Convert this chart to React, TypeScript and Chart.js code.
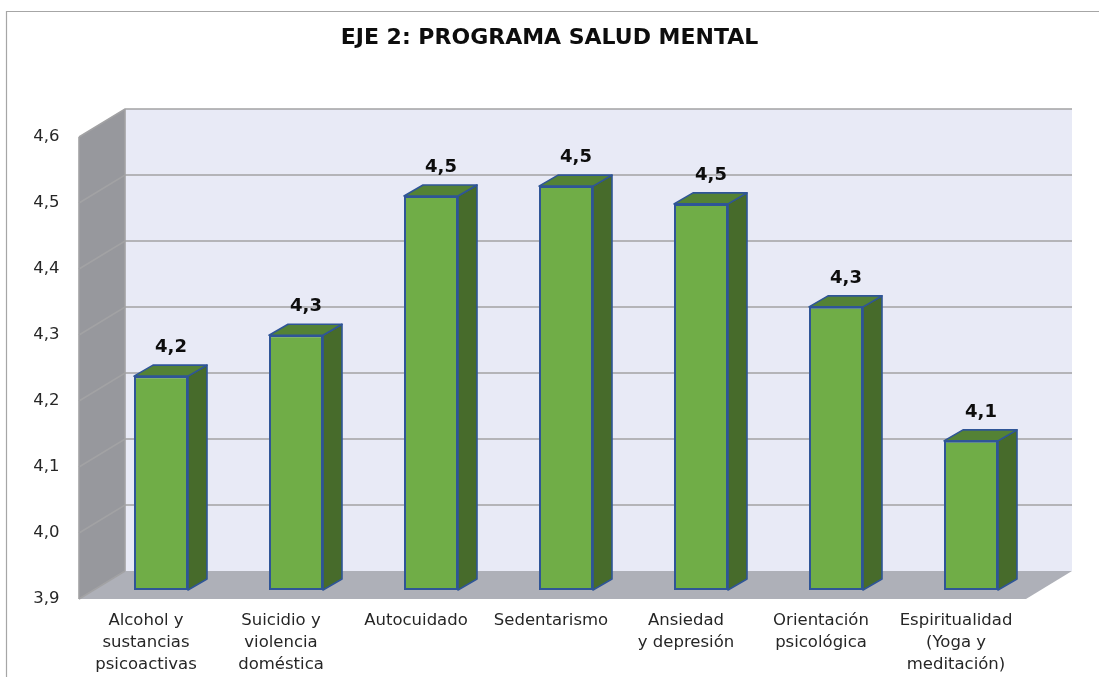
import React, { useEffect, useRef } from "react";
import { Chart, registerables } from "chart.js";

Chart.register(...registerables);

const categories = [
  ["Alcohol y", "sustancias", "psicoactivas"],
  ["Suicidio y", "violencia", "doméstica"],
  ["Autocuidado"],
  ["Sedentarismo"],
  ["Ansiedad", "y depresión"],
  ["Orientación", "psicológica"],
  ["Espiritualidad", "(Yoga y", "meditación)"],
];
const values = [4.224, 4.286, 4.497, 4.512, 4.485, 4.329, 4.126];
const titleText = "EJE 2: PROGRAMA SALUD MENTAL";
const axisMin = 3.9;
const axisMax = 4.6;

const FONT = '"DejaVu Sans", sans-serif';
const BAR_DEPTH = { x: 19, y: 11 };
const WALL_FRONT = { x: -14.5, y: 9 };
const WALL_BACK = { x: 31.5, y: -19 };
const RIGHT_EXTRA = 2;

const comma = (v: number, d: number) => v.toFixed(d).replace(".", ",");

const poly = (ctx: CanvasRenderingContext2D, pts: number[][], fill: string, stroke?: string, lw = 1) => {
  ctx.beginPath();
  pts.forEach(([x, y], i) => (i ? ctx.lineTo(x, y) : ctx.moveTo(x, y)));
  ctx.closePath();
  ctx.fillStyle = fill;
  ctx.fill();
  if (stroke) {
    ctx.strokeStyle = stroke;
    ctx.lineWidth = lw;
    ctx.lineJoin = "round";
    ctx.stroke();
  }
};

const frame3d = {
  id: "frame3d",
  afterLayout(chart: any) {
    // centre the title on the whole canvas rather than on the padded box
    if (chart.titleBlock) {
      chart.titleBlock.left = 0;
      chart.titleBlock.right = chart.width;
    }
  },
  beforeDatasetsDraw(chart: any) {
    const { ctx, chartArea: a, scales, width, height } = chart;
    const y = scales.y;
    const f = WALL_FRONT;
    const b = WALL_BACK;
    const L = a.left;
    const R = a.right + RIGHT_EXTRA;
    const T = y.getPixelForValue(axisMax);
    const B = y.getPixelForValue(axisMin);
    ctx.save();
    // outer frame
    ctx.strokeStyle = "#a6a6a6";
    ctx.lineWidth = 1.2;
    ctx.beginPath();
    ctx.moveTo(6.5, height);
    ctx.lineTo(6.5, 11.5);
    ctx.lineTo(width, 11.5);
    ctx.stroke();
    // back wall
    poly(ctx, [[L + b.x, T + b.y], [R + b.x, T + b.y], [R + b.x, B + b.y], [L + b.x, B + b.y]], "#e8eaf6");
    // left wall
    poly(ctx, [[L + f.x, T + f.y], [L + b.x, T + b.y], [L + b.x, B + b.y], [L + f.x, B + f.y]], "#97989d");
    // floor
    poly(ctx, [[L + f.x, B + f.y], [L + b.x, B + b.y], [R + b.x, B + b.y], [R + f.x, B + f.y]], "#aeb0b8");
    // grid
    y.ticks.forEach((t: any) => {
      const p = y.getPixelForValue(t.value);
      ctx.strokeStyle = "#a2a2a4";
      ctx.lineWidth = 1.6;
      ctx.beginPath();
      ctx.moveTo(L + f.x, p + f.y);
      ctx.lineTo(L + b.x, p + b.y);
      if (t.value > axisMin + 0.05) ctx.lineTo(R + b.x, p + b.y);
      ctx.stroke();
    });
    ctx.strokeStyle = "#a2a2a4";
    ctx.lineWidth = 1.6;
    ctx.beginPath();
    ctx.moveTo(L + b.x, T + b.y);
    ctx.lineTo(L + b.x, B + b.y);
    ctx.moveTo(L + f.x, T + f.y);
    ctx.lineTo(L + f.x, B + f.y);
    ctx.stroke();
    ctx.restore();
  },
  afterDatasetsDraw(chart: any) {
    const { ctx } = chart;
    const meta = chart.getDatasetMeta(0);
    const d = BAR_DEPTH;
    ctx.save();
    meta.data.forEach((el: any, i: number) => {
      const { x, y, base, width } = el.getProps(["x", "y", "base", "width"], true);
      const l = x - width / 2;
      const r = x + width / 2;
      poly(ctx, [[r, y], [r + d.x, y - d.y], [r + d.x, base - d.y], [r, base]], "#476b2b", "#2f5597", 1.6);
      poly(ctx, [[l, y], [l + d.x, y - d.y], [r + d.x, y - d.y], [r, y]], "#548235", "#2f5597", 1.6);
      ctx.fillStyle = "#0d0d0d";
      ctx.font = `bold 18px ${FONT}`;
      ctx.textAlign = "center";
      ctx.textBaseline = "middle";
      ctx.fillText(comma(values[i], 1), x + 10, y - 29);
    });
    ctx.restore();
  },
};

export default function App() {
  const ref = useRef<HTMLCanvasElement>(null);
  useEffect(() => {
    const chart = new Chart(ref.current as HTMLCanvasElement, {
      type: "bar",
      data: {
        labels: categories,
        datasets: [
          {
            data: values,
            base: axisMin,
            clip: false,
            backgroundColor: "#70ad47",
            borderColor: "#2f5597",
            borderWidth: 2,
            borderSkipped: false,
            barPercentage: 0.4,
            categoryPercentage: 1,
          },
        ],
      },
      options: {
        responsive: false,
        animation: false,
        layout: { padding: { top: 0, right: 60.5, bottom: 0, left: 0 } },
        plugins: {
          legend: { display: false },
          tooltip: { enabled: false },
          title: {
            display: true,
            text: titleText,
            color: "#0d0d0d",
            font: { family: FONT, size: 22, weight: "bold", lineHeight: 1.2 },
            padding: { top: 25, bottom: 76.6 },
          },
        },
        scales: {
          x: {
            grid: { display: false, drawTicks: false },
            border: { display: false },
            afterFit: (s: any) => {
              s.height = 87;
            },
            ticks: {
              autoSkip: false,
              maxRotation: 0,
              padding: 20,
              labelOffset: -15,
              color: "#262626",
              font: { family: FONT, size: 16.5, lineHeight: 22 / 16.5 },
            },
          },
          y: {
            min: axisMin,
            max: axisMax,
            grid: { display: false, drawTicks: false },
            border: { display: false },
            afterFit: (s: any) => {
              s.width = 93.5;
            },
            ticks: {
              stepSize: 0.1,
              padding: 34,
              labelOffset: 9,
              color: "#262626",
              font: { family: FONT, size: 16.5 },
              callback: (v: any) => comma(Number(v), 1),
            },
          },
        },
      },
      plugins: [frame3d],
    } as any);
    return () => chart.destroy();
  }, []);
  return (
    <div style={{ position: "absolute", left: 0, top: 0, width: 1099, height: 677 }}>
      <canvas ref={ref} width={1099} height={677} style={{ display: "block" }} />
    </div>
  );
}
